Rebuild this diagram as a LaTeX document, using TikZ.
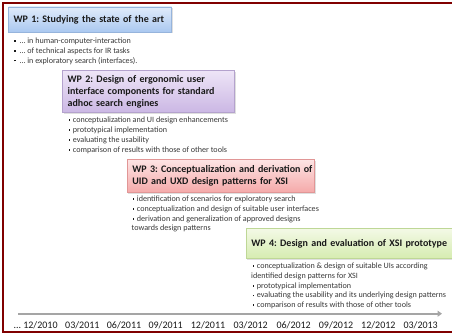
\documentclass[tikz,border=0pt]{standalone}
\usepackage{fontspec}
\setmainfont{Carlito}
\usetikzlibrary{shadows,arrows.meta}
\definecolor{framered}{RGB}{128,0,0}
\definecolor{headtext}{RGB}{25,25,25}
\definecolor{bodytext}{RGB}{55,55,55}
\definecolor{bluetop}{RGB}{224,235,250}
\definecolor{bluebot}{RGB}{170,200,240}
\definecolor{blueline}{RGB}{150,180,220}
\definecolor{purtop}{RGB}{238,229,247}
\definecolor{purbot}{RGB}{203,183,228}
\definecolor{purline}{RGB}{180,162,205}
\definecolor{redtop}{RGB}{253,228,228}
\definecolor{redbot}{RGB}{245,170,170}
\definecolor{redline}{RGB}{225,150,150}
\definecolor{grntop}{RGB}{243,249,230}
\definecolor{grnbot}{RGB}{214,236,176}
\definecolor{grnline}{RGB}{190,215,150}
\definecolor{axisgray}{RGB}{165,165,165}
\newcommand\bul{\raisebox{1.6pt}{\textcolor{headtext}{\rule{1.8pt}{1.8pt}}}\hspace{2.6pt}}
\frenchspacing
\begin{document}
\begin{tikzpicture}[x=1pt,y=-1pt,
  wpbox/.style={anchor=north west, inner xsep=5pt, inner ysep=0pt, align=left,
    text=headtext, font=\fontsize{10}{12}\selectfont\bfseries,
    line width=0.6pt,
    drop shadow={shadow xshift=1pt, shadow yshift=-1.5pt, opacity=0.25}},
  wpone/.style={wpbox, draw=blueline, top color=bluetop, bottom color=bluebot},
  wptwo/.style={wpbox, draw=purline, top color=purtop, bottom color=purbot},
  wpthree/.style={wpbox, draw=redline, top color=redtop, bottom color=redbot},
  wpfour/.style={wpbox, draw=grnline, top color=grntop, bottom color=grnbot},
  blist/.style={anchor=base west, inner sep=0pt, align=left, text=bodytext,
    font=\fontsize{8.1}{9.8}\selectfont},
  datelab/.style={anchor=base west, inner sep=0pt, text=headtext,
    font=\fontsize{10}{12}\selectfont}
]
\useasboundingbox (0,0) rectangle (452,334);
% frame
\draw[framered, line width=2pt] (460,3) -- (3,3) -- (3,331.8) -- (460,331.8);

% WP 1 (list nodes are anchored at the baseline of their last line)
\node[wpone, minimum width=163pt, minimum height=25pt, text width=153pt] (wp1) at (8.3,6.7)
  {\mbox{WP 1: Studying the state of the art}};
\node[blist] (l1) at (14,63.1)
  {\bul\,… in human-computer-interaction\\
   \bul\,… of technical aspects for IR tasks\\
   \bul\,… in exploratory search (interfaces).};

% WP 2
\node[wptwo, minimum width=172pt, minimum height=42.3pt, text width=162pt] (wp2) at (62.3,70)
  {\mbox{WP 2: Design of ergonomic user}\\\mbox{interface components for standard}\\\mbox{adhoc search engines}};
\node[blist] (l2) at (68.3,152.1)
  {\bul conceptualization and UI design enhancements\\
   \bul prototypical implementation\\
   \bul evaluating the usability\\
   \bul comparison of results with those of other tools};

% WP 3
\node[wpthree, minimum width=187.3pt, minimum height=32.4pt, text width=177.3pt] (wp3) at (127,159.3)
  {\mbox{WP 3: Conceptualization and derivation of}\\\mbox{UID and UXD design patterns for XSI}};
\node[blist] (l3) at (131.5,230.9)
  {\hspace{0.8pt}\bul identification of scenarios for exploratory search\\
   \hspace{0.8pt}\bul conceptualization and design of suitable user interfaces\\
   \hspace{0.8pt}\bul derivation and generalization of approved designs\\
   towards design patterns};

% WP 4
\node[wpfour, minimum width=210pt, minimum height=30pt, text width=200pt] (wp4) at (246,228.3)
  {\mbox{WP 4: Design and evaluation of XSI prototype}};
\node[blist] (l4) at (251,307.7)
  {\hspace{1.3pt}\bul conceptualization \& design of suitable UIs according\\
   identified design patterns for XSI\\
   \hspace{1.3pt}\bul prototypical implementation\\
   \hspace{1.3pt}\bul evaluating the usability and its underlying design patterns\\
   \hspace{1.3pt}\bul comparison of results with those of other tools};

% timeline
\coordinate (tstart) at (18.3,313.7);
\coordinate (tend) at (442,313.7);
\draw[axisgray, line width=1.6pt, -{Triangle[length=4.5pt,width=6pt]}] (tstart) -- (tend);
\node[datelab] (d0) at (13.3,328.3) {... 12/2010};
\node[datelab] (d1) at (65,328.3) {03/2011};
\node[datelab] (d2) at (106.7,328.3) {06/2011};
\node[datelab] (d3) at (148.3,328.3) {09/2011};
\node[datelab] (d4) at (190.7,328.3) {12/2011};
\node[datelab] (d5) at (233.3,328.3) {03/2012};
\node[datelab] (d6) at (276.3,328.3) {06/2012};
\node[datelab] (d7) at (318.7,328.3) {09/2012};
\node[datelab] (d8) at (361,328.3) {12/2012};
\node[datelab] (d9) at (403.3,328.3) {03/2013};
\end{tikzpicture}
\end{document}
